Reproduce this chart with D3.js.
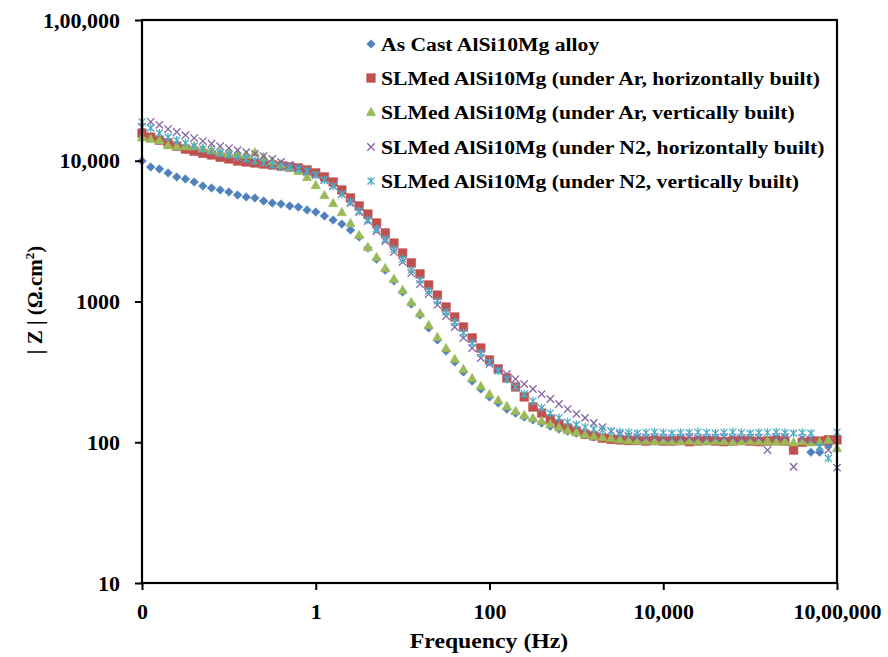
<!DOCTYPE html>
<html>
<head>
<meta charset="utf-8">
<script src="https://cdn.jsdelivr.net/npm/d3@7"></script>
<style>
  html, body { margin: 0; padding: 0; background: #fff; }
  svg { display: block; }
  text { font-family: "Liberation Serif", "Times New Roman", serif; font-weight: bold; fill: #000; }
</style>
</head>
<body>
<svg id="chart" width="888" height="657"></svg>
<script>
// ---------------- DATA ----------------
const frequencies = [0.01,0.01259,0.01585,0.01995,0.02512,0.03162,0.03981,0.05012,0.0631,0.07943,
  0.1,0.1259,0.1585,0.1995,0.2512,0.3162,0.3981,0.5012,0.631,0.7943,
  1,1.259,1.585,1.995,2.512,3.162,3.981,5.012,6.31,7.943,
  10,12.59,15.85,19.95,25.12,31.62,39.81,50.12,63.1,79.43,
  100,125.9,158.5,199.5,251.2,316.2,398.1,501.2,631,794.3,
  1000,1259,1585,1995,2512,3162,3981,5012,6310,7943,
  10000,12589,15849,19953,25119,31623,39811,50119,63096,79433,
  100000,125893,158489,199526,251189,316228,398107,501187,630957,794328,
  1000000];

const asCast = [9960,9030,8740,8190,7670,7420,7060,6620,6400,6200,
  6000,5710,5530,5440,5180,5010,4930,4770,4690,4470,
  4320,4050,3790,3550,3220,2870,2400,2000,1670,1400,
  1170,960,802,648,533,445,372,316,272,239,
  210,190,172,161,151,144,137,130,124,120,
  116,113,109,107,105,104,
  104,103,104,103,103,102,103,104,103,102,103,103,104,103,102,103,104,105,103,
  90,103,85,85,96,104];

const arHorizontal = [15700,14700,14000,13400,12700,12100,11700,11300,11000,10600,
  10300,9960,9800,9640,9480,9330,9180,9030,8880,8600,
  8190,7670,7060,6200,5440,4770,4180,3610,3070,2600,
  2210,1880,1570,1310,1110,914,776,659,551,467,
  384,332,286,247,210,178,161,146,135,126,
  120,114,111,107,105,104,
  103,103,102,103,102,102,103,101,102,103,102,101,102,103,102,101,102,103,102,
  88,100,102,102,104,104];

const arVertical = [14700,14300,14000,12900,12700,12700,12700,12300,11900,11500,
  11300,11200,11000,11500,10600,9960,9480,9030,8460,7670,
  6730,5710,5010,4320,3610,2970,2440,2070,1730,1450,
  1210,992,828,681,560,467,391,332,286,251,
  220,200,181,167,156,149,142,135,128,122,
  118,114,111,109,107,105,
  104,103,103,102,103,102,102,103,102,102,103,102,101,102,103,102,102,101,102,
  100,102,100,101,104,91];

const n2Horizontal = [17400,18900,18000,16800,16000,15200,14500,13800,13200,12700,
  12300,11900,11500,11200,10800,10300,9800,9330,8880,8320,
  7920,7300,6620,5800,5010,4320,3730,3170,2690,2250,
  1910,1590,1330,1130,945,789,659,551,467,397,
  360,332,305,281,259,239,220,203,187,172,
  159,149,137,128,120,114,
  111,109,
  108,109,108,107,108,109,108,107,108,109,108,107,108,108,
  88,109,109,67,107,104,93,88,66];

const n2Vertical = [18900,17100,15700,14700,14000,13400,12700,12100,11700,11300,
  11000,10600,10300,9960,9640,9330,9030,8880,8740,8460,
  7920,7300,6620,5800,5090,4390,3790,3270,2780,2360,
  2000,1670,1420,1190,1010,842,715,598,507,431,
  372,321,281,247,220,196,175,161,149,139,
  133,128,124,122,120,
  118,117,116,117,118,117,116,117,117,118,117,116,117,118,117,116,117,117,118,117,116,117,
  116,93,77,118];

const seriesNames = [
  "As Cast AlSi10Mg alloy",
  "SLMed AlSi10Mg (under Ar, horizontally built)",
  "SLMed AlSi10Mg (under Ar, vertically built)",
  "SLMed AlSi10Mg (under N2, horizontally built)",
  "SLMed AlSi10Mg (under N2, vertically built)"
];
const seriesValues = [asCast, arHorizontal, arVertical, n2Horizontal, n2Vertical];
const seriesColors = ["#4F81BD", "#C0504D", "#9BBB59", "#8064A2", "#4BACC6"];
const seriesMarkers = ["diamond", "square", "triangle", "x", "star"];

const xTickValues = [0.01, 1, 100, 10000, 1000000];
const xTickLabels = ["0", "1", "100", "10,000", "10,00,000"];
const yTickValues = [10, 100, 1000, 10000, 100000];
const yTickLabels = ["10", "100", "1000", "10,000", "1,00,000"];

// ---------------- LAYOUT ----------------
const L = 142, R = 837, T = 20, B = 583;
const svg = d3.select("#chart");

const x = d3.scaleLog().domain([0.01, 1000000]).range([L, R]);
const y = d3.scaleLog().domain([10, 100000]).range([B, T]);

function markerPath(type) {
  switch (type) {
    case "diamond": return "M0,-4.3L4.3,0L0,4.3L-4.3,0Z";
    case "square": return "M-4.3,-4.3H4.3V4.3H-4.3Z";
    case "triangle": return "M0,-4.7L4.7,3.7H-4.7Z";
    case "x": return "M-3.7,-3.7L3.7,3.7M-3.7,3.7L3.7,-3.7";
    case "star": return "M-3.5,-3.5L3.5,3.5M-3.5,3.5L3.5,-3.5M0,-4.3V4.3";
  }
}
function drawMarker(g, type, color) {
  const stroked = (type === "x" || type === "star");
  g.append("path")
    .attr("d", markerPath(type))
    .attr("fill", stroked ? "none" : color)
    .attr("stroke", color)
    .attr("stroke-width", stroked ? 1.3 : 0.6);
}

// ---------------- SERIES ----------------
const plot = svg.append("g");
seriesValues.forEach((vals, si) => {
  const g = plot.append("g");
  vals.forEach((v, i) => {
    const m = g.append("g").attr("transform", `translate(${x(frequencies[i])},${y(v)})`);
    drawMarker(m, seriesMarkers[si], seriesColors[si]);
  });
});

// ---------------- AXES ----------------
const yAxis = d3.axisLeft(y).tickValues(yTickValues)
  .tickFormat((d, i) => yTickLabels[i]).tickSizeInner(7).tickSizeOuter(0).tickPadding(15);
const gy = svg.append("g").attr("transform", `translate(${L},0)`).call(yAxis);
gy.select(".domain").remove();
gy.selectAll(".tick line").attr("stroke", "#000").attr("stroke-width", 2);
gy.selectAll(".tick text").style("font-size", "22px").style("font-family", '"Liberation Serif", serif').style("font-weight", "bold");

const xAxis = d3.axisBottom(x).tickValues(xTickValues)
  .tickFormat((d, i) => xTickLabels[i]).tickSizeInner(7).tickSizeOuter(0).tickPadding(13);
const gx = svg.append("g").attr("transform", `translate(0,${B})`).call(xAxis);
gx.select(".domain").remove();
gx.selectAll(".tick line").attr("stroke", "#000").attr("stroke-width", 2);
gx.selectAll(".tick text").style("font-size", "22px").style("font-family", '"Liberation Serif", serif').style("font-weight", "bold");

// frame
svg.append("rect").attr("x", L).attr("y", T).attr("width", R - L).attr("height", B - T)
  .attr("fill", "none").attr("stroke", "#000").attr("stroke-width", 2.2);

// axis titles
svg.append("text").attr("transform", "translate(489,648) scale(1.08,1)").attr("text-anchor", "middle")
  .style("font-size", "22px").text("Frequency (Hz)");

const yt = svg.append("text").attr("transform", "translate(42,300) rotate(-90)")
  .attr("text-anchor", "middle").style("font-size", "21px");
yt.append("tspan").text("| Z | (Ω.cm");
yt.append("tspan").attr("dy", -8).style("font-size", "13px").text("2");
yt.append("tspan").attr("dy", 8).text(")");

// ---------------- LEGEND ----------------
const legendY = [44, 78, 112, 147, 181];
seriesNames.forEach((name, i) => {
  const g = svg.append("g").attr("transform", `translate(371,${legendY[i]})`);
  drawMarker(g, seriesMarkers[i], seriesColors[i]);
  g.append("text").attr("transform", "translate(10,6.5) scale(1.14,1)")
    .style("font-size", "19px").text(name);
});
</script>
</body>
</html>
